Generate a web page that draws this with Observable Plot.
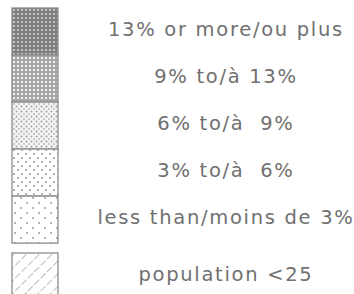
<!DOCTYPE html>
<html><head><meta charset="utf-8">
<script src="https://cdn.jsdelivr.net/npm/d3@7"></script>
<script src="https://cdn.jsdelivr.net/npm/@observablehq/plot@0.6"></script>
<style>body{margin:0;background:#fff}</style>
</head><body><div id="chart"></div>
<script>
const labels = ["13% or more/ou plus","9% to/à 13%","6% to/à  9%","3% to/à  6%","less than/moins de 3%","population <25"];
const patterns = ["p13","p9","p6","p3","p0","pop"];

const gap = 0.21;
const rows = labels.map((label, i) => ({
  label,
  fill: `url(#${patterns[i]})`,
  y1: i + (i === 5 ? gap : 0),
  y2: i + 1 + (i === 5 ? gap : 0)
}));

const plot = Plot.plot({
  width: 354, height: 294,
  margin: 0,
  x: {domain: [0, 1], range: [12, 58], axis: null},
  y: {domain: [0, 6.21], range: [8, 300], axis: null},
  color: {type: "identity"},
  style: {fontFamily: "DejaVu Sans", letterSpacing: "1.7px", background: "#fff"},
  marks: [
    Plot.rect(rows, {x1: 0, x2: 1, y1: "y1", y2: "y2", fill: "fill", stroke: "#8c8c8c", strokeWidth: 1.3}),
    Plot.text(rows, {x: 4.64, y: d => (d.y1 + d.y2) / 2, dy: -2, text: "label", fontSize: 19.5, fill: "#707070", textAnchor: "middle"})
  ]
});

const ns = "http://www.w3.org/2000/svg";
const defs = document.createElementNS(ns, "defs");
defs.innerHTML = `
<pattern id="p13" width="4" height="4" patternUnits="userSpaceOnUse">
  <rect width="4" height="4" fill="#7e7e7e"/><rect x="1" y="1" width="2" height="2" fill="#c4c4c4"/>
</pattern>
<pattern id="p9" width="4" height="4" patternUnits="userSpaceOnUse">
  <rect width="4" height="4" fill="#a6a6a6"/><rect x="1" y="1" width="2" height="2" fill="#f2f2f2"/>
</pattern>
<pattern id="p6" width="5" height="5" patternUnits="userSpaceOnUse">
  <rect width="5" height="5" fill="#f4f4f4"/><circle cx="1.5" cy="1.5" r="1" fill="#a0a0a0"/><circle cx="4" cy="4" r="0.9" fill="#b4b4b4"/>
</pattern>
<pattern id="p3" width="8" height="8" patternUnits="userSpaceOnUse">
  <rect width="8" height="8" fill="#fff"/><circle cx="2" cy="2" r="1" fill="#9a9a9a"/><circle cx="6" cy="6" r="1" fill="#9a9a9a"/>
</pattern>
<pattern id="p0" width="12" height="10" patternUnits="userSpaceOnUse">
  <rect width="12" height="10" fill="#fff"/><circle cx="3" cy="3" r="1" fill="#9a9a9a"/><circle cx="9" cy="8" r="1" fill="#9a9a9a"/>
</pattern>
<pattern id="pop" width="9" height="9" patternUnits="userSpaceOnUse" patternTransform="rotate(45)">
  <rect width="9" height="9" fill="#fff"/><line x1="0" y1="0" x2="0" y2="9" stroke="#8c8c8c" stroke-width="1.2" stroke-dasharray="6 2"/>
</pattern>`;
plot.insertBefore(defs, plot.firstChild);
document.getElementById("chart").append(plot);
</script>
</body></html>
